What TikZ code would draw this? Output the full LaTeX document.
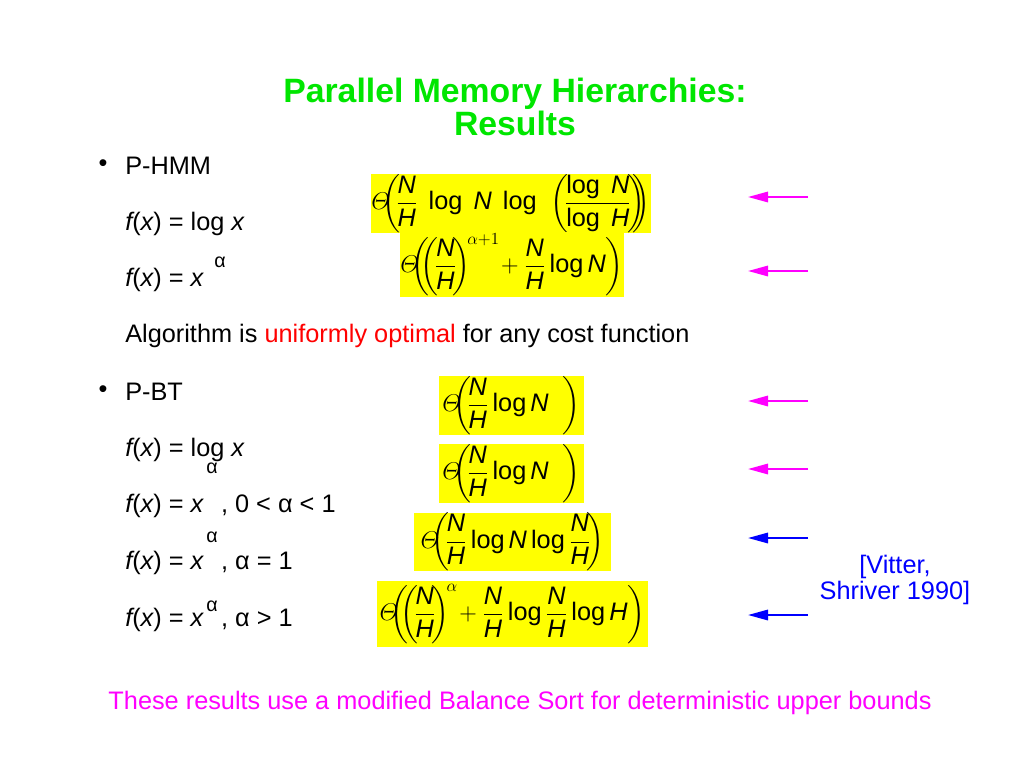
\documentclass[tikz,border=0pt]{standalone}
\usepackage{amsmath}
\usepackage{fontspec}
\setmainfont{Liberation Sans}
\usetikzlibrary{arrows.meta}
\definecolor{titlegreen}{RGB}{0,230,0}
\definecolor{hilite}{RGB}{255,255,0}
\definecolor{pink}{RGB}{255,0,255}
\definecolor{navy}{RGB}{0,0,255}
\definecolor{alert}{RGB}{255,0,0}
\newcommand{\vN}{\mathit{N}}
\newcommand{\vH}{\mathit{H}}
\newcommand{\vf}{{\itshape f}}
\newcommand{\vx}{{\itshape x}}
\tikzset{
	txt/.style={anchor=west, inner sep=0pt, font=\fontsize{18}{22}\selectfont},
	dot/.style={inner sep=0pt, font=\fontsize{18}{22}\selectfont},
	alph/.style={inner sep=0pt, font=\fontsize{14}{16}\selectfont},
	res/.style={fill=hilite, inner sep=0pt, font=\fontsize{18}{22}\selectfont},
	ptr/.style={-{Triangle[length=0.5cm,width=0.26cm]}, line width=1.4pt}
}
\begin{document}
\begin{tikzpicture}[x=0.025cm, y=-0.025cm]
			\useasboundingbox (0,0) rectangle (1024,768);
			
			\node[text=titlegreen, align=center, font=\fontsize{24}{24}\selectfont\bfseries] (title) at (515,107) {Parallel Memory Hierarchies:\\Results};
			
			% P-HMM
			\node[dot] 		(b1) 	at (103,166) {\textbullet};
			\node[txt] 		(hmm) 	at (125,166) {P-HMM};
			\node[txt] 		(h1) 	at (125,224) {\vf(\vx) = log \vx};
			\node[txt] 		(h2) 	at (125,280) {\vf(\vx) = \vx};
			\node[alph] 	(ha) 	at (220,262) {α};
			\node[txt] 		(alg) 	at (125,336) {Algorithm is \textcolor{alert}{uniformly optimal} for any cost function};
			
			% P-BT
			\node[dot] 		(b2) 	at (103,392) {\textbullet};
			\node[txt] 		(pbt) 	at (125,392) {P-BT};
			\node[txt] 		(t1) 	at (125,450) {\vf(\vx) = log \vx};
			\node[alph] 	(ta1) 	at (212,468) {α};
			\node[txt] 		(t2) 	at (125,506) {\vf(\vx) = \vx\hspace{0.7em}, 0 < α < 1};
			\node[alph] 	(ta2) 	at (212,537) {α};
			\node[txt] 		(t3) 	at (125,563) {\vf(\vx) = \vx\hspace{0.7em}, α = 1};
			\node[txt] 		(t4) 	at (125,620) {\vf(\vx) = \vx\hspace{0.7em}, α > 1};
			\node[alph] 	(ta3) 	at (212,606) {α};
			
			% results
			\node[res, minimum width=7cm, minimum height=1.425cm] 	(f1) at (511,203.5)
				{$\displaystyle\varTheta\!\!\biggl(\!\frac{\vN}{\vH}\ \log\ \vN\ \log\ \ \biggl(\!\frac{\log\ \vN}{\log\ \vH}\!\biggr)\!\!\!\biggr)$};
			\node[res, minimum width=5.6cm, minimum height=1.625cm] (f2) at (512,264.5)
				{$\displaystyle\varTheta\!\!\biggl(\!\!\biggl(\!\frac{\vN}{\vH}\!\biggr)^{\!\alpha+1}\!+\frac{\vN}{\vH}\log\vN\biggr)$};
			\node[res, minimum width=3.625cm, minimum height=1.425cm] (f3) at (511.5,405.5)
				{$\displaystyle\varTheta\!\!\biggl(\!\frac{\vN}{\vH}\log\vN\ \ \biggr)$};
			\node[res, minimum width=3.625cm, minimum height=1.425cm] (f4) at (511.5,473.5)
				{$\displaystyle\varTheta\!\!\biggl(\!\frac{\vN}{\vH}\log\vN\ \ \biggr)$};
			\node[res, minimum width=4.925cm, minimum height=1.45cm] 	(f5) at (512.5,542)
				{$\displaystyle\varTheta\!\!\biggl(\!\frac{\vN}{\vH}\log\vN\log\frac{\vN}{\vH}\!\biggr)$};
			\node[res, minimum width=6.775cm, minimum height=1.65cm] 	(f6) at (512.5,614)
				{$\displaystyle\varTheta\!\!\biggl(\!\!\biggl(\!\frac{\vN}{\vH}\!\biggr)^{\!\alpha}\!+\frac{\vN}{\vH}\log\frac{\vN}{\vH}\log\vH\biggr)$};
			
			% pointers
			\coordinate (s1) at (808,197); 	\coordinate (e1) at (748,197);
			\coordinate (s2) at (808,271); 	\coordinate (e2) at (748,271);
			\coordinate (s3) at (808,401); 	\coordinate (e3) at (748,401);
			\coordinate (s4) at (808,469); 	\coordinate (e4) at (748,469);
			\coordinate (s5) at (808,538); 	\coordinate (e5) at (748,538);
			\coordinate (s6) at (808,615); 	\coordinate (e6) at (748,615);
			
			\draw [ptr, pink] (s1) -- (e1);
			\draw [ptr, pink] (s2) -- (e2);
			\draw [ptr, pink] (s3) -- (e3);
			\draw [ptr, pink] (s4) -- (e4);
			\draw [ptr, navy] (s5) -- (e5);
			\draw [ptr, navy] (s6) -- (e6);
			
			\node[text=navy, align=center, font=\fontsize{18}{19}\selectfont] (cite) at (895,580) {[Vitter,\\Shriver 1990]};
			
			\node[text=pink, font=\fontsize{18}{22}\selectfont] (note) at (520,703) {These results use a modified Balance Sort for deterministic upper bounds};
\end{tikzpicture}
\end{document}
